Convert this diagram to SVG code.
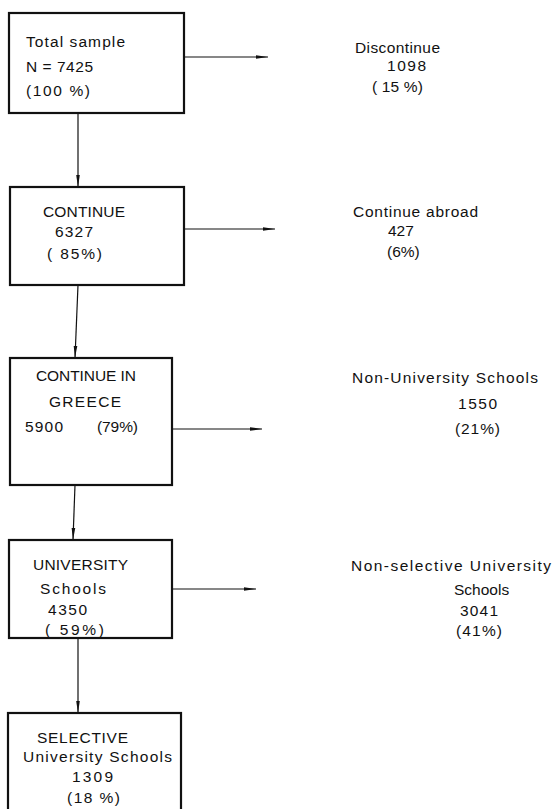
<svg xmlns="http://www.w3.org/2000/svg" width="554" height="809" viewBox="0 0 554 809">
<defs>
<marker id="ah" markerUnits="userSpaceOnUse" markerWidth="13" markerHeight="6" refX="12" refY="3" orient="auto">
<path d="M0,1.2 L12,3 L0,4.8 Z" fill="#111"/>
</marker>
<style>
.box{fill:#fff;stroke:#111;stroke-width:2.2}
.con{stroke:#111;stroke-width:1.2;fill:none}
text{font-family:"Liberation Sans",Arial,sans-serif;font-size:15.5px;fill:#111}
</style>
</defs>
<rect width="554" height="809" fill="#fff"/>
<g id="connectors">
<line class="con" x1="184" y1="57" x2="268" y2="57" marker-end="url(#ah)"/>
<line class="con" x1="184" y1="229" x2="275" y2="229" marker-end="url(#ah)"/>
<line class="con" x1="172" y1="429" x2="262" y2="429" marker-end="url(#ah)"/>
<line class="con" x1="172" y1="589" x2="256" y2="589" marker-end="url(#ah)"/>
<line class="con" x1="78" y1="113" x2="78" y2="187" marker-end="url(#ah)"/>
<line class="con" x1="78" y1="285" x2="75" y2="358" marker-end="url(#ah)"/>
<line class="con" x1="75" y1="485" x2="73" y2="540" marker-end="url(#ah)"/>
<line class="con" x1="78" y1="638" x2="78" y2="713" marker-end="url(#ah)"/>
</g>
<g id="n1">
<rect class="box" x="9" y="13" width="175" height="100"/>
<text x="26" y="47" textLength="99" lengthAdjust="spacing">Total sample</text>
<text x="26" y="72" textLength="67" lengthAdjust="spacing">N = 7425</text>
<text x="26" y="96" textLength="64" lengthAdjust="spacing">(100 %)</text>
</g>
<g id="n1r">
<text x="355" y="53" textLength="85" lengthAdjust="spacing">Discontinue</text>
<text x="387" y="71" textLength="39" lengthAdjust="spacing">1098</text>
<text x="372" y="92" textLength="51" lengthAdjust="spacing">( 15 %)</text>
</g>
<g id="n2">
<rect class="box" x="10" y="187" width="174" height="98"/>
<text x="43" y="217" textLength="82" lengthAdjust="spacing">CONTINUE</text>
<text x="55" y="237" textLength="38" lengthAdjust="spacing">6327</text>
<text x="47" y="259" textLength="55" lengthAdjust="spacing">( 85%)</text>
</g>
<g id="n2r">
<text x="353" y="217" textLength="125" lengthAdjust="spacing">Continue abroad</text>
<text x="388" y="236">427</text>
<text x="387" y="257">(6%)</text>
</g>
<g id="n3">
<rect class="box" x="10" y="358" width="162" height="127"/>
<text x="36" y="381" textLength="100" lengthAdjust="spacing">CONTINUE IN</text>
<text x="49" y="407" textLength="72" lengthAdjust="spacing">GREECE</text>
<text x="25" y="432" textLength="38" lengthAdjust="spacing">5900</text>
<text x="97" y="432" textLength="41" lengthAdjust="spacing">(79%)</text>
</g>
<g id="n3r">
<text x="352" y="383" textLength="186" lengthAdjust="spacing">Non-University Schools</text>
<text x="458" y="409" textLength="39" lengthAdjust="spacing">1550</text>
<text x="455" y="434" textLength="45" lengthAdjust="spacing">(21%)</text>
</g>
<g id="n4">
<rect class="box" x="9" y="540" width="163" height="98"/>
<text x="33" y="570" textLength="95" lengthAdjust="spacing">UNIVERSITY</text>
<text x="40" y="594" textLength="66" lengthAdjust="spacing">Schools</text>
<text x="48" y="615" textLength="39" lengthAdjust="spacing">4350</text>
<text x="45" y="635" textLength="59" lengthAdjust="spacing">( 59%)</text>
</g>
<g id="n4r">
<text x="351" y="571" textLength="200" lengthAdjust="spacing">Non-selective University</text>
<text x="454" y="595">Schools</text>
<text x="460" y="616" textLength="38" lengthAdjust="spacing">3041</text>
<text x="456" y="636" textLength="46" lengthAdjust="spacing">(41%)</text>
</g>
<g id="n5">
<rect class="box" x="8" y="713" width="173" height="110"/>
<text x="37" y="743" textLength="91" lengthAdjust="spacing">SELECTIVE</text>
<text x="23" y="762" textLength="149" lengthAdjust="spacing">University Schools</text>
<text x="72" y="782" textLength="41" lengthAdjust="spacing">1309</text>
<text x="67" y="803" textLength="53" lengthAdjust="spacing">(18 %)</text>
</g>
</svg>
